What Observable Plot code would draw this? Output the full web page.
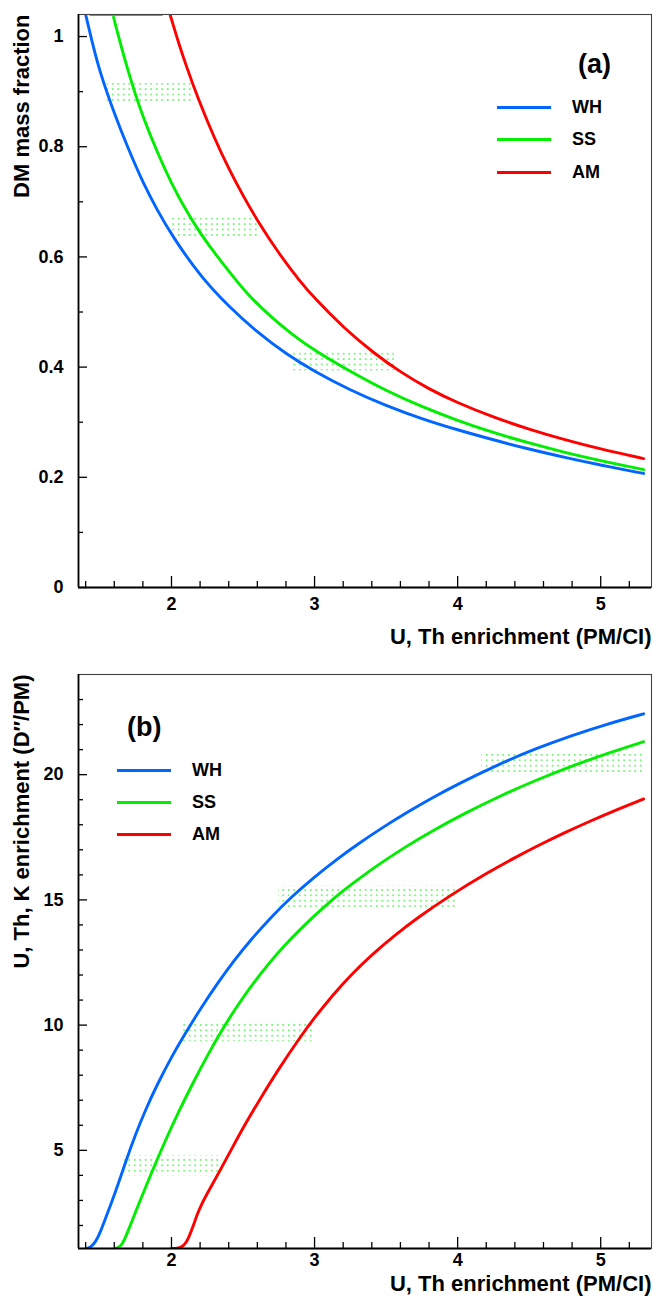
<!DOCTYPE html>
<html><head><meta charset="utf-8">
<script src="https://cdn.jsdelivr.net/npm/d3@7"></script>
<script src="https://cdn.jsdelivr.net/npm/@observablehq/plot@0.6"></script>
<style>
body{margin:0;background:#fff;font-family:"Liberation Sans",Arial,sans-serif;}
#wrap{position:relative;width:653px;height:1296px;overflow:hidden;}
#wrap svg{display:block;}
.lg{position:absolute;font-weight:bold;color:#000;line-height:1;white-space:nowrap;}
.ln{position:absolute;height:3px;}
</style></head><body>
<svg width="0" height="0" style="position:absolute">
 <defs>
  <pattern id="dots" patternUnits="userSpaceOnUse" width="5.5" height="5.4">
   <rect x="2" y="2" width="1.4" height="1.4" fill="#1cf01c"/>
  </pattern>
 </defs>
</svg>
<div id="wrap"></div>
<script>
// ---------- shared ----------
const seriesNames = ["WH", "SS", "AM"];
const seriesColors = ["#0066ff", "#00ee00", "#ff0000"];
const xMajor = [2, 3, 4, 5];
const xMinor = [1.4, 1.6, 1.8, 2.2, 2.4, 2.6, 2.8, 3.2, 3.4, 3.6, 3.8, 4.2, 4.4, 4.6, 4.8, 5.2];
const xTitle = "U, Th enrichment (PM/CI)";

// ---------- panel (a): DM mass fraction ----------
const aYMajor = [0, 0.2, 0.4, 0.6, 0.8, 1];
const aYMinor = [0.1, 0.3, 0.5, 0.7, 0.9];
const aYTitle = "DM mass fraction";
const aWH = [[1.40,1.04],[1.45,0.985],[1.5,0.935],[1.6,0.86],[1.7,0.795],[1.8,0.735],[1.9,0.685],[2.0,0.64],[2.2,0.565],[2.4,0.51],[2.6,0.463],[2.8,0.424],[3.0,0.392],[3.25,0.358],[3.5,0.33],[3.75,0.306],[4.0,0.286],[4.25,0.268],[4.5,0.251],[4.75,0.236],[5.0,0.222],[5.3,0.207]];
const aSS = [[1.595,1.035],[1.65,0.98],[1.7,0.935],[1.75,0.893],[1.8,0.855],[1.9,0.79],[2.0,0.733],[2.1,0.685],[2.2,0.643],[2.33,0.597],[2.45,0.558],[2.55,0.527],[2.7,0.49],[2.85,0.458],[3.0,0.43],[3.25,0.392],[3.5,0.357],[3.75,0.328],[4.0,0.303],[4.25,0.281],[4.5,0.262],[4.75,0.245],[5.0,0.23],[5.3,0.214]];
const aSSTop = [[1.435,1.04],[1.93,1.04]];
const aAM = [[1.99,1.04],[2.05,0.988],[2.1,0.949],[2.18,0.891],[2.3,0.815],[2.4,0.76],[2.5,0.711],[2.6,0.666],[2.75,0.606],[2.9,0.555],[3.0,0.525],[3.2,0.472],[3.42,0.424],[3.6,0.391],[3.8,0.36],[4.0,0.335],[4.25,0.309],[4.5,0.287],[4.75,0.268],[5.0,0.251],[5.3,0.234]];
const aBandX1 = [1.55, 1.99, 2.84];
const aBandX2 = [2.15, 2.62, 3.56];
const aBandY1 = [0.88, 0.637, 0.393];
const aBandY2 = [0.915, 0.672, 0.428];

// ---------- panel (b): U, Th, K enrichment ----------
const bYMajor = [5, 10, 15, 20];
const bYMinor = [2, 3, 4, 6, 7, 8, 9, 11, 12, 13, 14, 16, 17, 18, 19, 21, 22, 23];
const bYTitle = "U, Th, K enrichment (D\u2033/PM)";
const bWH = [[1.41,1.08],[1.44,1.15],[1.47,1.35],[1.5,1.7],[1.53,2.15],[1.58,2.9],[1.63,3.7],[1.68,4.55],[1.75,5.66],[1.82,6.64],[1.9,7.63],[2.0,8.73],[2.09,9.61],[2.2,10.63],[2.32,11.66],[2.44,12.6],[2.55,13.38],[2.7,14.34],[2.85,15.18],[3.0,15.92],[3.15,16.6],[3.3,17.22],[3.48,17.91],[3.65,18.51],[3.83,19.1],[4.0,19.62],[4.3,20.45],[4.55,21.05],[4.8,21.57],[5.05,22.03],[5.3,22.43]];
const bSS = [[1.607,1.08],[1.63,1.12],[1.655,1.25],[1.677,1.5],[1.72,2.12],[1.76,2.7],[1.82,3.55],[1.886,4.45],[1.96,5.43],[2.05,6.55],[2.156,7.76],[2.25,8.78],[2.354,9.82],[2.45,10.69],[2.551,11.52],[2.67,12.4],[2.784,13.15],[2.92,13.95],[3.063,14.71],[3.2,15.37],[3.319,15.89],[3.48,16.54],[3.65,17.17],[3.83,17.78],[4.05,18.46],[4.3,19.16],[4.55,19.79],[4.8,20.35],[5.05,20.86],[5.3,21.32]];
const bAM = [[2.0,1.08],[2.05,1.09],[2.09,1.2],[2.119,1.49],[2.15,1.95],[2.18,2.45],[2.21,2.85],[2.25,3.28],[2.33,4.1],[2.42,5.05],[2.51,6.0],[2.62,7.06],[2.75,8.26],[2.9,9.53],[3.0,10.3],[3.13,11.22],[3.25,11.98],[3.4,12.81],[3.55,13.54],[3.72,14.29],[3.95,15.19],[4.21,16.09],[4.4,16.69],[4.58,17.22],[4.75,17.69],[4.92,18.13],[5.1,18.57],[5.3,19.03]];
const bBandX1 = [1.67, 2.08, 2.75, 4.17];
const bBandX2 = [2.36, 2.99, 4.0, 5.3];
const bBandY1 = [3.98, 9.34, 14.7, 20.06];
const bBandY2 = [4.8, 10.16, 15.56, 20.92];

// ---------- helpers ----------
const toRows = pts => pts.map(([x, y]) => ({x, y}));
const bands = (x1, x2, y1, y2) => x1.map((v, i) => ({x1: v, x2: x2[i], y1: y1[i], y2: y2[i]}));
const font = "Liberation Sans, Arial, Helvetica, sans-serif";
const W = 653, ML = 78, MR = 2;
const FW = W - ML - MR;

function panel({height, marginTop, marginBottom, xDomain, yDomain, yMajor, yMinor, curves, extra, bandRows, yTitle, titleDy, xPad}) {
  const FH = height - marginTop - marginBottom;
  const marks = [
    Plot.rect(bandRows, {x1: "x1", x2: "x2", y1: "y1", y2: "y2", fill: "url(#dots)"}),
  ];
  for (const c of extra) marks.push(Plot.line(toRows(c.pts), {x: "x", y: "y", stroke: c.color, strokeWidth: 3, clip: true}));
  curves.forEach((pts, i) => {
    marks.push(Plot.line(toRows(pts), {x: "x", y: "y", stroke: seriesColors[i], strokeWidth: 2.9, curve: "basis", clip: true}));
  });
  marks.push(
    Plot.ruleY(yMinor, {stroke: "#000", strokeWidth: 1.3, insetRight: FW - 5}),
    Plot.ruleY(yMajor, {stroke: "#000", strokeWidth: 1.3, insetRight: FW - 9}),
    Plot.ruleX(xMinor, {stroke: "#000", strokeWidth: 1.3, insetTop: FH - 6}),
    Plot.ruleX(xMajor, {stroke: "#000", strokeWidth: 1.3, insetTop: FH - 11}),
    Plot.frame({stroke: "#444", strokeWidth: 1.1}),
    Plot.ruleX([xDomain[0]], {stroke: "#000", strokeWidth: 1.8}),
    Plot.ruleY([yDomain[0]], {stroke: "#000", strokeWidth: 1.8}),
    Plot.text([xTitle], {frameAnchor: "bottom-right", textAnchor: "end", lineAnchor: "middle", dy: titleDy, fontSize: 22, fontWeight: "bold"}),
    Plot.text([yTitle], {frameAnchor: "top-left", textAnchor: "end", lineAnchor: "middle", rotate: -90, dx: -57, fontSize: 22, fontWeight: "bold"})
  );
  return Plot.plot({
    width: W, height, marginTop, marginBottom, marginLeft: ML, marginRight: MR,
    style: {fontFamily: font, fontSize: "18px", fontWeight: "bold", color: "#000", background: "transparent", overflow: "visible"},
    x: {domain: xDomain, ticks: xMajor, tickSize: 0, tickPadding: xPad, tickFormat: d => String(d), label: null},
    y: {domain: yDomain, ticks: yMajor, tickSize: 0, tickPadding: 15, tickFormat: d => String(d), label: null},
    marks
  });
}

const wrap = document.getElementById("wrap");
wrap.appendChild(panel({
  height: 655, marginTop: 14, marginBottom: 68,
  xDomain: [1.35, 5.355], yDomain: [0, 1.04],
  yMajor: aYMajor, yMinor: aYMinor,
  curves: [aWH, aSS, aAM],
  extra: [{pts: aSSTop, color: seriesColors[1]}],
  bandRows: bands(aBandX1, aBandX2, aBandY1, aBandY2),
  yTitle: aYTitle, titleDy: 49, xPad: 10
}));
wrap.appendChild(panel({
  height: 641, marginTop: 19, marginBottom: 48,
  xDomain: [1.35, 5.355], yDomain: [1.08, 24],
  yMajor: bYMajor, yMinor: bYMinor,
  curves: [bWH, bSS, bAM],
  extra: [],
  bandRows: bands(bBandX1, bBandX2, bBandY1, bBandY2),
  yTitle: bYTitle, titleDy: 35, xPad: 5
}));

// ---------- in-frame legends ----------
const legendA = {tag: "(a)", tagX: 578, tagY: 65, lineX: 497, textX: 572, rows: [107, 139, 172]};
const legendB = {tag: "(b)", tagX: 127, tagY: 728, lineX: 117, textX: 192, rows: [770, 802, 834]};
for (const L of [legendA, legendB]) {
  const t = document.createElement("div");
  t.className = "lg"; t.textContent = L.tag;
  t.style.cssText += `left:${L.tagX}px;top:${L.tagY - 14}px;font-size:27px;`;
  wrap.appendChild(t);
  seriesNames.forEach((name, i) => {
    const ln = document.createElement("div");
    ln.className = "ln";
    ln.style.cssText += `left:${L.lineX}px;top:${L.rows[i] - 1.5}px;width:54px;background:${seriesColors[i]};`;
    wrap.appendChild(ln);
    const tx = document.createElement("div");
    tx.className = "lg"; tx.textContent = name;
    tx.style.cssText += `left:${L.textX}px;top:${L.rows[i] - 9}px;font-size:18px;`;
    wrap.appendChild(tx);
  });
}
</script>
</body></html>
